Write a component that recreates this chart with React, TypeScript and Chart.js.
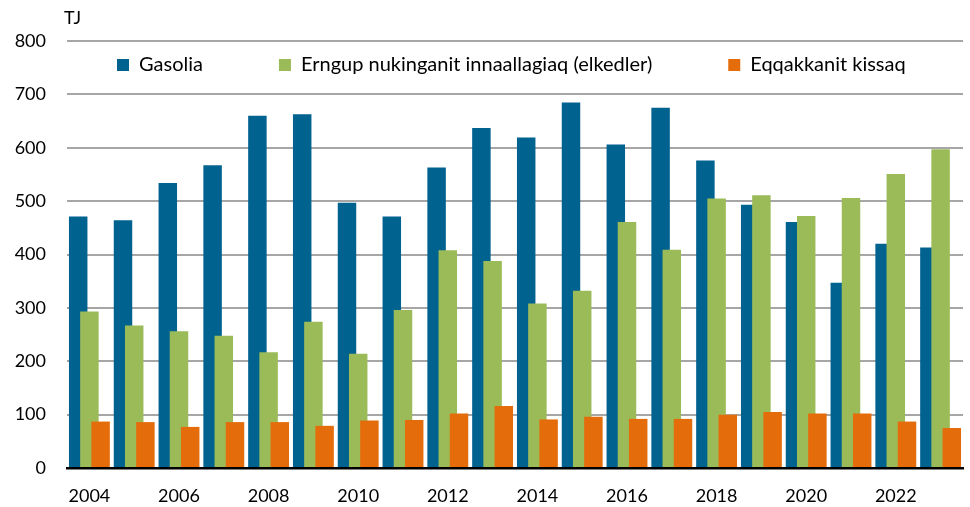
import React, { useEffect, useRef } from "react";
import { Chart, registerables } from "chart.js";

Chart.register(...registerables);

const years = ["2004","2005","2006","2007","2008","2009","2010","2011","2012","2013","2014","2015","2016","2017","2018","2019","2020","2021","2022","2023"];
const gasolia = [471,464,534,567,660,663,497,471,563,637,619,685,606,675,576,493,461,347,420,413];
const innaallagiaq = [293,267,256,248,217,274,214,296,408,388,308,332,461,409,505,511,472,506,551,597];
const kissaq = [87,86,77,86,86,79,89,90,102,116,91,96,92,92,100,105,102,102,87,75];
const seriesNames = ["Gasolia", "Erngup nukinganit innaallagiaq (elkedler)", "Eqqakkanit kissaq"];
const seriesColors = ["#00628F", "#9BBB59", "#E46C0A"];
const yTicks = [0,100,200,300,400,500,600,700,800];
const unitLabel = "TJ";

const FONT = 'Lato, "Open Sans", sans-serif';

// draw datasets in index order so later series overlap earlier ones
const drawOrderPlugin = {
  id: "drawOrder",
  beforeDatasetsDraw(chart: any) {
    for (let i = 0; i < chart.data.datasets.length; i++) {
      const meta = chart.getDatasetMeta(i);
      if (meta.visible) meta.controller.draw();
    }
    return false;
  },
};

// put the legend inside the plot area, on one row
const legendPlacer = {
  id: "legendPlacer",
  afterLayout(chart: any) {
    const lg = chart.legend;
    if (!lg) return;
    const pad = lg.options.labels.padding;
    lg.left = chart.chartArea.left + 50 - pad;
    lg.right = chart.width + 300;
    lg.width = lg.right - lg.left;
    lg.top = chart.chartArea.top + 14 - pad;
    lg.bottom = lg.top + pad + 40;
    lg.height = lg.bottom - lg.top;
  },
};

const unitPlugin = {
  id: "unitLabel",
  afterDraw(chart: any) {
    const ctx = chart.ctx;
    ctx.save();
    ctx.font = `18px ${FONT}`;
    ctx.fillStyle = "#000";
    ctx.textAlign = "left";
    ctx.textBaseline = "middle";
    ctx.fillText(unitLabel, chart.chartArea.left - 3, chart.chartArea.top - 23);
    ctx.restore();
  },
};

export default function App() {
  const ref = useRef<HTMLCanvasElement>(null);

  useEffect(() => {
    if (!ref.current) return;
    const values = [gasolia, innaallagiaq, kissaq];
    const chart = new Chart(ref.current, {
      type: "bar",
      data: {
        labels: years,
        datasets: values.map((v, i) => ({
          label: seriesNames[i],
          data: v,
          backgroundColor: seriesColors[i],
          borderWidth: 0,
          categoryPercentage: 0.75,
          barPercentage: 1.65,
        })),
      },
      options: {
        responsive: false,
        animation: false,
        layout: { padding: { top: 41, left: 15, right: 7, bottom: 0 } },
        plugins: {
          legend: {
            position: "top",
            align: "start",
            maxHeight: 0.01,
            labels: {
              font: { family: FONT, size: 20 },
              color: "#000",
              boxWidth: 12,
              boxHeight: 12,
              padding: 76,
            },
          },
          tooltip: { enabled: false },
          title: { display: false },
        },
        scales: {
          x: {
            z: 1,
            grid: { display: false, drawTicks: false },
            border: { display: true, color: "#000", width: 2.5 },
            afterFit: (s: any) => {
              s.height = 39;
            },
            ticks: {
              autoSkip: false,
              maxRotation: 0,
              minRotation: 0,
              padding: 17.5,
              color: "#000",
              font: { family: FONT, size: 18 },
              callback: (_v: any, idx: number) => (idx % 2 === 0 ? years[idx] : ""),
            },
          },
          y: {
            min: yTicks[0],
            max: yTicks[yTicks.length - 1],
            border: { display: false },
            grid: { color: "#A6A6A6", lineWidth: 2, drawTicks: false },
            afterBuildTicks: (scale: any) => {
              scale.ticks = yTicks.map((v) => ({ value: v }));
            },
            afterFit: (s: any) => {
              s.width = 52;
            },
            ticks: {
              padding: 21,
              color: "#000",
              font: { family: FONT, size: 18 },
            },
          },
        },
      },
      plugins: [drawOrderPlugin, legendPlacer, unitPlugin],
    });
    return () => chart.destroy();
  }, []);

  return (
    <div style={{ position: "fixed", left: 0, top: 0, width: 970, height: 507, background: "#fff" }}>
      <canvas ref={ref} width={970} height={507} style={{ display: "block" }} />
    </div>
  );
}
